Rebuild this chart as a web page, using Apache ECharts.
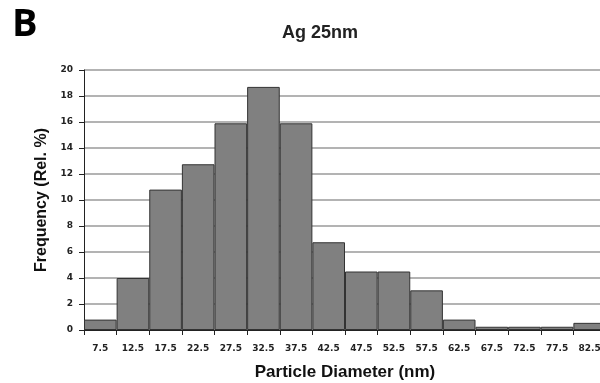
<!DOCTYPE html>
<html>
<head>
<meta charset="utf-8">
<script src="https://cdn.jsdelivr.net/npm/echarts@6/dist/echarts.min.js"></script>
<style>
  html, body { margin: 0; padding: 0; background: #fff; }
  #chart { width: 600px; height: 383px; }
</style>
</head>
<body>
<div id="chart"></div>
<script>
// Bin centres of the particle diameter histogram (nm)
const binCentres = ['7.5', '12.5', '17.5', '22.5', '27.5', '32.5', '37.5', '42.5',
                    '47.5', '52.5', '57.5', '62.5', '67.5', '72.5', '77.5', '82.5'];
// Relative frequency per bin (%)
const frequency = [0.8, 4.0, 10.8, 12.75, 15.9, 18.7, 15.9, 6.75,
                   4.5, 4.5, 3.05, 0.8, 0.25, 0.25, 0.25, 0.55];
// Frequency axis ticks
const yTicks = [0, 2, 4, 6, 8, 10, 12, 14, 16, 18, 20];

const FONT = '"Liberation Sans", Arial, sans-serif';
const TICK_FONT = '"DejaVu Sans", Verdana, sans-serif';

const chart = echarts.init(document.getElementById('chart'), null, { renderer: 'canvas' });
chart.setOption({
  animation: false,
  backgroundColor: '#ffffff',
  title: [
    {
      text: 'B',
      left: 7, top: 1,
      textStyle: { fontFamily: '"Open Sans", ' + FONT, fontWeight: 'bold', fontSize: 38, color: '#000' }
    },
    {
      text: 'Ag 25nm',
      left: 315, top: 19, textAlign: 'center',
      textStyle: { fontFamily: FONT, fontWeight: 'bold', fontSize: 18, color: '#222' }
    }
  ],
  // the last bin runs slightly past the right edge of the canvas
  grid: { left: 84, top: 70, width: 522, height: 260, containLabel: false, outerBoundsMode: 'none' },
  xAxis: {
    type: 'category',
    data: binCentres,
    boundaryGap: true,
    name: 'Particle Diameter (nm)',
    nameLocation: 'middle',
    nameGap: 34,
    nameTextStyle: { fontFamily: FONT, fontWeight: 'bold', fontSize: 17, color: '#111' },
    axisLine: { show: true, lineStyle: { color: '#222', width: 1 } },
    axisTick: { show: true, length: 5, alignWithLabel: false, lineStyle: { color: '#222' } },
    axisLabel: { fontFamily: TICK_FONT, fontWeight: 'bold', fontSize: 9, color: '#222', margin: 14, interval: 0 },
    splitLine: { show: false }
  },
  yAxis: {
    type: 'value',
    min: yTicks[0],
    max: yTicks[yTicks.length - 1],
    interval: 2,
    name: 'Frequency (Rel. %)',
    nameLocation: 'middle',
    nameGap: 33,
    nameRotate: 90,
    nameTextStyle: { fontFamily: FONT, fontWeight: 'bold', fontSize: 16, color: '#111' },
    axisLine: { show: true, lineStyle: { color: '#222', width: 1 } },
    axisTick: { show: true, length: 5, lineStyle: { color: '#222' } },
    axisLabel: { fontFamily: TICK_FONT, fontWeight: 'bold', fontSize: 9, color: '#222', margin: 11 },
    splitLine: { show: true, lineStyle: { color: '#9a9a9a', width: 1.5 } }
  },
  series: [{
    type: 'bar',
    data: frequency,
    barWidth: '100%',
    barCategoryGap: 0,
    itemStyle: { color: '#808080', borderColor: '#333', borderWidth: 1 }
  }]
});
</script>
</body>
</html>
